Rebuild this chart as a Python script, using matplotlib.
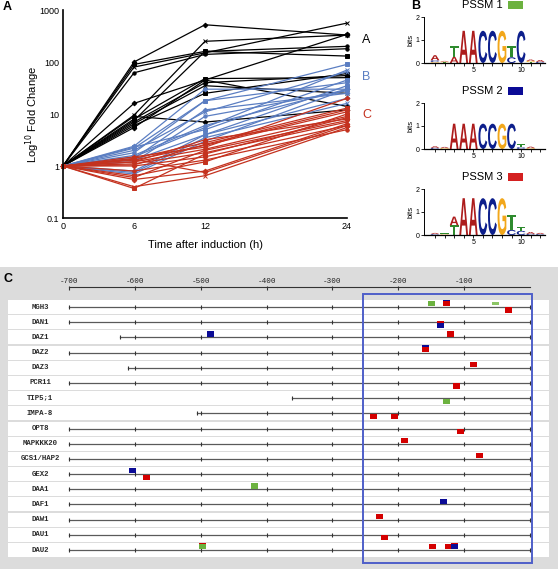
import numpy as np
import matplotlib.pyplot as plt
from matplotlib.patches import Rectangle, PathPatch
from matplotlib.textpath import TextPath
from matplotlib.font_manager import FontProperties
from matplotlib.transforms import Affine2D

# ---------------- data ----------------
# panel A : fold change over time, three clusters
times = [0, 6, 12, 24]
black_series = [
    [1, 100, 520, 330],
    [1, 90, 160, 130],
    [1, 80, 150, 560],
    [1, 62, 140, 180],
    [1, 16, 45, 340],
    [1, 9.5, 250, 330],
    [1, 9, 7, 12],
    [1, 8, 48, 50],
    [1, 7.5, 160, 200],
    [1, 7, 40, 55],
    [1, 6.5, 35, 25],
    [1, 6, 25, 60],
    [1, 5.5, 45, 14],
]
blue_series = [
    [1, 2.4, 30, 30],
    [1, 2.2, 18, 90],
    [1, 2.0, 11, 65],
    [1, 1.8, 18, 40],
    [1, 1.6, 6, 30],
    [1, 1.5, 5.5, 70],
    [1, 1.4, 12, 25],
    [1, 1.3, 4, 35],
    [1, 1.2, 9, 28],
    [1, 0.8, 4, 20],
    [1, 0.75, 3.5, 16],
    [1, 2.3, 5, 45],
    [1, 0.7, 3, 30],
]
red_series = [
    [1, 1.5, 2.3, 20],
    [1, 1.4, 2.8, 13],
    [1, 1.3, 2.5, 11],
    [1, 1.2, 2.1, 9],
    [1, 1.2, 3.2, 8],
    [1, 1.1, 1.8, 7],
    [1, 1.0, 1.5, 6],
    [1, 0.65, 1.2, 10],
    [1, 0.6, 2.0, 7.5],
    [1, 0.55, 0.8, 6.5],
    [1, 0.4, 0.65, 5.5],
    [1, 0.37, 1.7, 8.5],
    [1, 1.35, 0.75, 6],
    [1, 0.8, 1.3, 5],
    [1, 1.05, 2.6, 12],
]
y_ticks = [0.1, 1, 10, 100, 1000]
y_ticklabels = ['0.1', '1', '10', '100', '1000']

# panel B : sequence logos, letters bottom->top with heights (bits)
pssm1 = [
    [('G', 0.04), ('C', 0.08), ('A', 0.22)],
    [('T', 0.03), ('G', 0.03), ('A', 0.03)],
    [('A', 0.27), ('T', 0.47)],
    [('A', 1.4)], [('A', 1.4)], [('C', 1.4)], [('C', 1.4)], [('G', 1.4)],
    [('C', 0.25), ('T', 0.5)],
    [('C', 1.4)],
    [('T', 0.04), ('G', 0.05), ('A', 0.06)],
    [('C', 0.05), ('A', 0.08)],
]
pssm2 = [
    [('C', 0.05), ('A', 0.07)],
    [('G', 0.04), ('A', 0.05)],
    [('A', 1.1)], [('A', 1.1)], [('A', 1.1)], [('C', 1.1)], [('C', 1.1)],
    [('G', 1.1)], [('C', 1.1)],
    [('C', 0.08), ('T', 0.12)],
    [('G', 0.04), ('A', 0.06)],
    [],
]
pssm3 = [
    [('C', 0.04), ('A', 0.05)],
    [('G', 0.03), ('T', 0.04)],
    [('T', 0.42), ('A', 0.38)],
    [('A', 1.6)], [('A', 1.6)], [('C', 1.6)], [('C', 1.6)], [('G', 1.6)],
    [('C', 0.22), ('T', 0.65)],
    [('C', 0.18), ('T', 0.17)],
    [('C', 0.05), ('A', 0.08)],
    [('C', 0.04), ('A', 0.05)],
]
pssm_names = ['PSSM 1', 'PSSM 2', 'PSSM 3']
pssm_colors = ['#6cb23f', '#0b0b96', '#d42020']

# panel C : promoter map
genes = ['MGH3', 'DAN1', 'DAZ1', 'DAZ2', 'DAZ3', 'PCR11', 'TIP5;1', 'IMPA-8',
         'OPT8', 'MAPKKK20', 'GCS1/HAP2', 'GEX2', 'DAA1', 'DAF1', 'DAW1',
         'DAU1', 'DAU2']
gene_start = [-700, -700, -623, -700, -610, -700, -362, -505,
              -700, -700, -700, -700, -700, -700, -700, -700, -700]
scale_ticks = [-700, -600, -500, -400, -300, -200, -100]
motif_row = [0, 0, 0, 0, 1, 2, 2, 3, 4, 5, 6, 7, 7, 8, 9, 10, 11, 11,
             12, 13, 14, 15, 16, 16, 16, 16]
motif_pos = [-150, -127, -52, -33, -136, -485, -121, -158, -86, -112, -127,
             -238, -206, -106, -191, -76, -603, -582, -419, -132, -229, -221,
             -497, -148, -124, -115]
motif_side = ['up', 'up', 'up', 'down', 'down', 'up', 'up', 'up', 'up', 'down',
              'down', 'down', 'down', 'down', 'up', 'up', 'up', 'down', 'up',
              'up', 'up', 'down', 'up', 'up', 'up', 'up']
motif_kind = ['green', 'blue/red', 'lightgreen', 'red', 'red/blue', 'blue', 'red',
              'blue/red', 'red', 'red', 'green', 'red', 'red', 'red', 'red', 'red',
              'blue', 'red', 'green', 'blue', 'red', 'red', 'red/green', 'red',
              'red', 'red/blue']
window = [-253, 3]

# ---------------- figure ----------------
W, H = 558, 569
fig = plt.figure(figsize=(W / 100, H / 100), dpi=100)
plt.rcParams['font.family'] = 'Liberation Sans'


def px_axes(l, t, r, b):
    return fig.add_axes([l / W, 1 - b / H, (r - l) / W, (b - t) / H])


def ftext(x, y, s, **kw):
    fig.text(x / W, 1 - y / H, s, **kw)


# ---- panel C (background first) ----
k = (530 - 69) / 700.0   # px per bp
s = 15.19                # px per row
axC = px_axes(0, 267, 558, 569)
axC.set_facecolor('#dcdcdc')
axC.set_xlim(-700 - 69 / k, (558 - 530) / k)
axC.set_ylim((569 - 307) / s, (267 - 307) / s)
axC.set_xticks([])
axC.set_yticks([])
for sp in axC.spines.values():
    sp.set_visible(False)

x_left = -700 + (8 - 69) / k
x_right = -700 + (549 - 69) / k
mono = 'Liberation Mono'
for i, g in enumerate(genes):
    axC.add_patch(Rectangle((x_left, i - 0.46), x_right - x_left, 0.92,
                            fc='white', ec='none'))
    axC.plot([gene_start[i], 0], [i, i], color='#5a5a5a', lw=0.9)
    tk = [gene_start[i], 0] + [t for t in scale_ticks if t > gene_start[i]]
    axC.plot(tk, [i] * len(tk), ls='none', marker='|', ms=2.5,
             mew=0.8, color='#333333')
    axC.text(-744, i, g, ha='center', va='center', fontsize=5.3,
             family=mono, weight='bold', color='#2a2a2a')

# scale bar
sy = (287 - 307) / s
axC.plot([-700, 0], [sy, sy], color='#333333', lw=0.8)
axC.plot(scale_ticks, [sy + 0.08] * len(scale_ticks), ls='none', marker='|',
         ms=2.5, mew=0.8, color='#333333')
for t in scale_ticks:
    axC.text(t, (281 - 307) / s, str(t), ha='center', va='center',
             fontsize=5.5, family=mono, color='#222222')

# motif boxes
mcol = {'red': '#d40000', 'blue': '#0b0b96', 'green': '#6cb23f',
        'lightgreen': '#8cc665'}
for r, p, sd, kind in zip(motif_row, motif_pos, motif_side, motif_kind):
    off = -0.22 if sd == 'up' else 0.2
    cols = kind.split('/')
    for j, c in enumerate(cols):
        dy = off - 0.08 * (len(cols) - 1 - j)
        hh = 0.22 if c == 'lightgreen' else 0.34
        axC.add_patch(Rectangle((p - 5.3, r + dy - hh / 2), 10.6, hh,
                                fc=mcol[c], ec='none', zorder=4))

# highlighted window
axC.add_patch(Rectangle((window[0], (294 - 307) / s), window[1] - window[0],
                        (563 - 294) / s, fill=False, ec='#4f5fc9', lw=1.4,
                        zorder=5))

# ---- panel A ----
axA = px_axes(63, 10, 347, 218)
mk = ['D', 's', 'x', 'o', 'D', 'x', 'D', 's', 'o', 'D', 'x', 's', 'D', 'o', 'D']
groups = [(black_series, 'black'), (blue_series, '#5b7ec2'),
          (red_series, '#c4321f')]
for series, col in groups:
    for j, vals in enumerate(series):
        axA.plot(times, vals, color=col, lw=0.9, marker=mk[j % len(mk)],
                 ms=2.4, mew=0.7, clip_on=False)
axA.set_yscale('log')
axA.set_ylim(0.1, 1000)
axA.set_xlim(0, 24)
axA.set_yticks(y_ticks)
axA.set_yticklabels(y_ticklabels)
axA.minorticks_off()
axA.set_xticks(times)
axA.tick_params(labelsize=6.5, length=0, pad=3)
for sp in ['top', 'right']:
    axA.spines[sp].set_visible(False)
axA.spines['left'].set_linewidth(1.2)
axA.spines['bottom'].set_linewidth(1.2)
axA.set_xlabel('Time after induction (h)', fontsize=8, labelpad=6)
axA.set_ylabel(r'Log$^{10}$ Fold Change', fontsize=8, labelpad=-2)

ftext(362, 40, 'A', fontsize=9, va='center', color='black')
ftext(362, 77, 'B', fontsize=9, va='center', color='#5b7ec2')
ftext(362, 115, 'C', fontsize=9, va='center', color='#c4321f')

# ---- panel B ----
letter_col = {'A': '#ad1c1c', 'C': '#0d1f8c', 'G': '#f2a71b', 'T': '#2e8b2e'}
fp = FontProperties(family='Liberation Sans', weight='bold')


def draw_letter(ax, ch, x, y0, h, w=0.92):
    tp = TextPath((0, 0), ch, size=1, prop=fp)
    bb = tp.get_extents()
    tr = Affine2D().translate(-bb.x0, -bb.y0).scale(w / bb.width, h / bb.height)
    tr = tr.translate(x - w / 2, y0)
    ax.add_patch(PathPatch(tr.transform_path(tp), fc=letter_col[ch],
                           ec='none', lw=0, clip_on=False))


logo_tops = [17, 103, 189]
for n, (pssm, top) in enumerate(zip([pssm1, pssm2, pssm3], logo_tops)):
    ax = px_axes(424, top, 545, top + 46)
    for pos, stack in enumerate(pssm, start=1):
        y0 = 0
        for ch, h in stack:
            draw_letter(ax, ch, pos, y0, h)
            y0 += h
    ax.set_xlim(-0.15, 12.5)
    ax.set_ylim(0, 2)
    ax.set_yticks([0, 1, 2])
    ax.set_xticks(range(1, 13))
    ax.set_xticklabels(['5' if i == 5 else '10' if i == 10 else ''
                        for i in range(1, 13)])
    ax.tick_params(labelsize=5, length=2, width=0.6, pad=1)
    for sp in ['top', 'right']:
        ax.spines[sp].set_visible(False)
    ax.spines['left'].set_linewidth(0.7)
    ax.spines['bottom'].set_linewidth(0.9)
    ax.set_ylabel('bits', fontsize=5.5, labelpad=1)
    ftext(482, top - 12, pssm_names[n], fontsize=8, ha='center', va='center')
    fig.patches.append(Rectangle((508 / W, 1 - (top - 8) / H), 15 / W, 8 / H,
                                 transform=fig.transFigure,
                                 fc=pssm_colors[n], ec='none'))

# panel letters
ftext(3, 7, 'A', fontsize=9, weight='bold', va='center')
ftext(411, 6, 'B', fontsize=9, weight='bold', va='center')
ftext(4, 279, 'C', fontsize=9, weight='bold', va='center')

plt.savefig('out.png', dpi=100)
